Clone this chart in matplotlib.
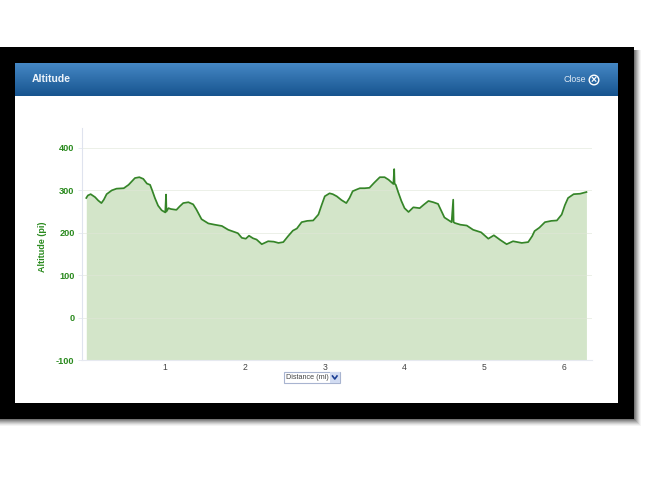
import numpy as np
import matplotlib
matplotlib.use("Agg")
import matplotlib.pyplot as plt
from matplotlib.patches import Rectangle, Circle

plt.rcParams['font.family'] = ['Liberation Sans', 'DejaVu Sans']

distance = [0.01, 0.03, 0.065, 0.12, 0.16, 0.20, 0.23, 0.265, 0.33, 0.39, 0.48, 0.54, 0.58, 0.62, 0.675,
            0.725, 0.77, 0.81, 0.84, 0.87, 0.91, 0.955, 1.00, 1.01, 1.015, 1.04, 1.07, 1.14, 1.18, 1.225,
            1.29, 1.35, 1.39, 1.455, 1.54, 1.62, 1.71, 1.79, 1.85, 1.91, 1.96, 2.01, 2.05, 2.10, 2.145,
            2.21, 2.29, 2.36, 2.42, 2.48, 2.54, 2.60, 2.65, 2.71, 2.78, 2.855, 2.92, 2.96, 3.0, 3.06,
            3.10, 3.15, 3.21, 3.27, 3.31, 3.35, 3.40, 3.44, 3.50, 3.56, 3.62, 3.69, 3.75, 3.80, 3.86,
            3.87, 3.875, 3.89, 3.92, 3.96, 4.00, 4.05, 4.11, 4.19, 4.24, 4.30, 4.36, 4.42, 4.46, 4.50,
            4.59, 4.61, 4.615, 4.63, 4.70, 4.78, 4.86, 4.96, 5.05, 5.12, 5.20, 5.28, 5.36, 5.47, 5.55,
            5.60, 5.63, 5.69, 5.76, 5.84, 5.91, 5.97, 6.01, 6.05, 6.12, 6.20, 6.28]
altitude = [282, 288, 291, 284, 276, 270, 278, 291, 300, 304, 305, 313, 321, 329, 331,
            327, 316, 313, 298, 282, 264, 253, 248, 290, 250, 258, 256, 254, 262, 270,
            272, 267, 255, 232, 222, 219, 216, 207, 203, 199, 188, 186, 193, 187, 184,
            173, 180, 179, 176, 178, 192, 205, 210, 225, 228, 229, 243, 265, 286, 293,
            291, 286, 277, 270, 282, 298, 302, 305, 305, 306, 318, 331, 331, 325, 315,
            350, 316, 313, 296, 275, 258, 249, 260, 258, 266, 275, 272, 268, 252, 236,
            225, 278, 225, 223, 219, 217, 207, 201, 186, 194, 183, 173, 180, 176, 178,
            192, 204, 212, 225, 228, 229, 243, 265, 282, 291, 292, 296]
x_ticks = [1, 2, 3, 4, 5, 6]
y_ticks = [-100, 0, 100, 200, 300, 400]

W, H = 653, 490
fig = plt.figure(figsize=(W / 100, H / 100), dpi=100, facecolor='white')

# page furniture, in pixels
bg = fig.add_axes([0, 0, 1, 1])
bg.set_xlim(0, W)
bg.set_ylim(H, 0)
bg.axis('off')

# soft shadow under the black frame
shades = ['#f4f4f4', '#e6e6e6', '#d2d2d2', '#bcbcbc', '#a4a4a4', '#8c8c8c', '#747474']
for i, grey in enumerate(shades):
    grow = len(shades) - i
    bg.add_patch(Rectangle((0, 50), 634 + grow, 369 + grow, color=grey, lw=0, zorder=1))
bg.add_patch(Rectangle((0, 47), 634, 372, color='black', lw=0, zorder=2))
bg.add_patch(Rectangle((15, 64), 603, 339, color='white', lw=0, zorder=3))

grad = np.linspace(0, 1, 32)[:, None, None]
top = np.array([0.27, 0.53, 0.77])
bottom = np.array([0.09, 0.33, 0.56])
bg.imshow(top + (bottom - top) * grad, extent=(15, 618, 96, 64), aspect='auto', zorder=4)
bg.set_xlim(0, W)
bg.set_ylim(H, 0)

bg.text(32, 79.5, 'Altitude', color='#eef4fa', fontsize=7.5, fontweight='bold', va='center', zorder=5)
bg.text(563, 80, 'Close', color='#dfeaf5', fontsize=6.3, va='center', zorder=5)
bg.add_patch(Circle((594, 80), 4.8, fc='none', ec='white', lw=1, zorder=5))
bg.text(594, 80, '×', color='white', fontsize=7.5, fontweight='bold', ha='center', va='center', zorder=5)

# dropdown under the chart
bg.add_patch(Rectangle((283.5, 371.5), 56, 11.5, fc='white', ec='#a8b4d0', lw=0.8, zorder=5))
bg.add_patch(Rectangle((330, 372), 9.5, 11, fc='#d2dcf2', lw=0, zorder=6))
bg.text(285.5, 377.5, 'Distance (mi)', color='#444444', fontsize=5.2, va='center', zorder=7)
bg.plot([332.5, 334.8, 337], [376, 379, 376], color='#1c3f94', lw=1.2, zorder=7)
bg.set_xlim(0, W)
bg.set_ylim(H, 0)

# chart: x from 81.5 to 592 px, y from 360 to 128 px
ax = fig.add_axes([81.5 / W, 1 - 360 / H, (592 - 81.5) / W, (360 - 128) / H])
ax.patch.set_alpha(0)
ax.set_xlim(-0.05, 6.35)
ax.set_ylim(-100, 447)
ax.fill_between(distance, altitude, -100, color='#d3e5c9', lw=0, zorder=1)
ax.plot(distance, altitude, color='#358528', lw=1.25, zorder=3)
ax.set_yticks(y_ticks)
ax.set_yticklabels(y_ticks, color='#2a8a1e', fontsize=6.6, fontweight='bold')
ax.set_xticks(x_ticks)
ax.set_xticklabels(x_ticks, color='#444444', fontsize=6.2)
ax.tick_params(axis='y', length=3, width=0.6, color='#e4e8f0', pad=2)
ax.tick_params(axis='x', length=0, pad=2)
ax.grid(axis='y', color='#dfe6d8', lw=0.6, alpha=0.7, zorder=2)
for s in ['top', 'right']:
    ax.spines[s].set_visible(False)
ax.spines['left'].set_color('#dfe3ee')
ax.spines['bottom'].set_color('#e6e9f0')
ax.set_ylabel('Altitude (pi)', color='#2a8a1e', fontsize=6.5, fontweight='bold')
ax.yaxis.set_label_coords((47 - 81.5) / (592 - 81.5), 0.49)

fig.savefig('out.png', dpi=100)
